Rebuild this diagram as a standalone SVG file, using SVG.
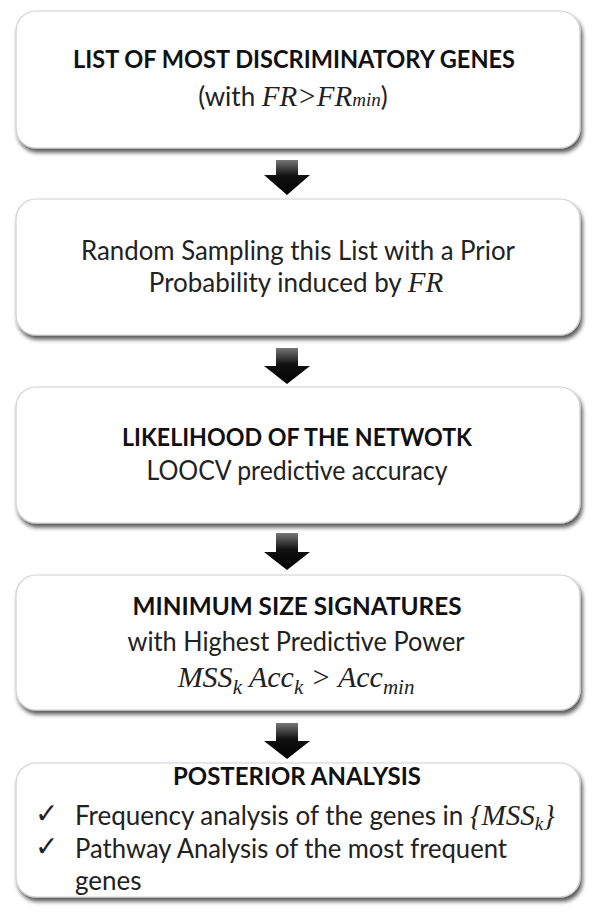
<svg xmlns="http://www.w3.org/2000/svg" width="596" height="919" viewBox="0 0 596 919">
<style>
.box{fill:#fff;stroke:#cfcfcf;stroke-width:1.2;filter:url(#sh)}
.t{font-family:Lato,"Open Sans","Liberation Sans",sans-serif;font-size:26px;fill:#222;text-anchor:middle}
.b{font-weight:bold;fill:#111;font-size:25px}
.m{font-family:"Liberation Serif","DejaVu Serif",serif;font-style:italic}
.ck{font-family:"DejaVu Sans",sans-serif;font-size:28px;fill:#222}
.arr{fill:url(#ag)}
</style>
<defs>
<filter id="sh" x="-5%" y="-10%" width="115%" height="130%">
<feDropShadow dx="2" dy="4" stdDeviation="2.2" flood-color="#000" flood-opacity="0.65"/>
</filter>
<linearGradient id="ag" x1="0" y1="0" x2="0" y2="1">
<stop offset="0" stop-color="#777"/>
<stop offset="0.45" stop-color="#111"/>
<stop offset="1" stop-color="#000"/>
</linearGradient>
</defs>
<rect width="596" height="919" fill="#fff"/>
<g id="connectors">
<path class="arr" d="M276 160H298V175H310L287 195L264 175H276Z"/>
<path class="arr" d="M276 348H298V366H310L287 384L264 366H276Z"/>
<path class="arr" d="M276 533H298V552H310L287 570L264 552H276Z"/>
<path class="arr" d="M276 723H298V741H310L287 759L264 741H276Z"/>
</g>
<g id="node1">
<rect class="box" x="16" y="11" width="564" height="137" rx="20"/>
<text class="t b" x="294" y="68" textLength="442" lengthAdjust="spacingAndGlyphs">LIST OF MOST DISCRIMINATORY GENES</text>
<text class="t" x="293" y="106">(with <tspan class="m" font-size="29">FR&gt;FR</tspan><tspan class="m" font-size="19">min</tspan>)</text>
</g>
<g id="node2">
<rect class="box" x="16" y="199" width="564" height="136" rx="20"/>
<text class="t" x="298" y="260" textLength="434" lengthAdjust="spacingAndGlyphs">Random Sampling this List with a Prior</text>
<text class="t" x="296" y="292">Probability induced by <tspan class="m" font-size="29">FR</tspan></text>
</g>
<g id="node3">
<rect class="box" x="16" y="387" width="564" height="136" rx="20"/>
<text class="t b" x="297" y="446" textLength="350" lengthAdjust="spacingAndGlyphs">LIKELIHOOD OF THE NETWOTK</text>
<text class="t" x="297" y="480" textLength="301" lengthAdjust="spacingAndGlyphs">LOOCV predictive accuracy</text>
</g>
<g id="node4">
<rect class="box" x="16" y="575" width="564" height="135" rx="20"/>
<text class="t b" x="297" y="615" textLength="329" lengthAdjust="spacingAndGlyphs">MINIMUM SIZE SIGNATURES</text>
<text class="t" x="296" y="651" textLength="337" lengthAdjust="spacingAndGlyphs">with Highest Predictive Power</text>
<text class="t m" x="296" y="687" style="font-size:30px">MSS<tspan font-size="21" dy="7">k</tspan><tspan dy="-7"> Acc</tspan><tspan font-size="21" dy="7">k</tspan><tspan dy="-7"> &gt; Acc</tspan><tspan font-size="21" dy="7">min</tspan></text>
</g>
<g id="node5">
<rect class="box" x="16" y="763" width="564" height="134" rx="20"/>
<text class="t b" x="297" y="785" textLength="248" lengthAdjust="spacingAndGlyphs">POSTERIOR ANALYSIS</text>
<text class="ck" x="35" y="823">✓</text>
<text class="ck" x="35" y="856">✓</text>
<text class="t" x="75" y="825" style="text-anchor:start">Frequency analysis of the genes in <tspan class="m" font-size="29">{MSS</tspan><tspan class="m" font-size="19" dy="5">k</tspan><tspan class="m" font-size="29" dy="-5">}</tspan></text>
<text class="t" x="75" y="858" style="text-anchor:start" textLength="432" lengthAdjust="spacingAndGlyphs">Pathway Analysis of the most frequent</text>
<text class="t" x="75" y="890" style="text-anchor:start">genes</text>
</g>
</svg>
